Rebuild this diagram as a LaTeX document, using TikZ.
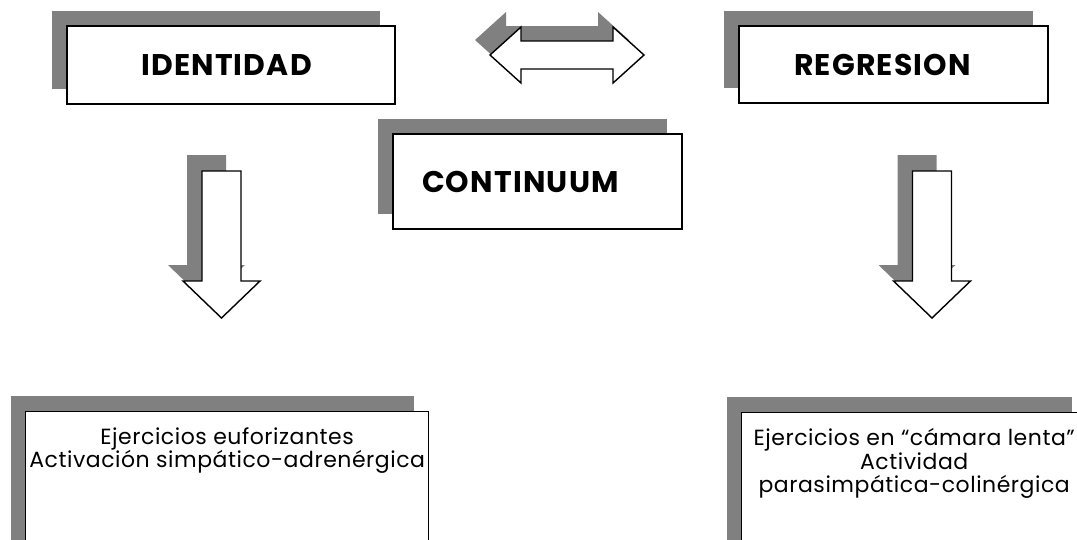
\documentclass[tikz,border=0pt]{standalone}
\usepackage{fontspec}
\setmainfont{Poppins}
\usetikzlibrary{shadows, positioning}

\tikzset{
    twoway/.pic = {\path[pic actions] (-77,0) -- (-46,-28) -- (-46,-14) -- (46,-14)
        -- (46,-28) -- (77,0) -- (46,28) -- (46,14) -- (-46,14) -- (-46,28) -- cycle;},
    downward/.pic = {\path[pic actions] (-19.5,0) -- (19.5,0) -- (19.5,110) -- (38.5,110)
        -- (0,147) -- (-38.5,110) -- (-19.5,110) -- cycle;}
}

\begin{document}
\begin{tikzpicture}[
    x = 0.02cm, y = -0.02cm,
    title/.style = {rectangle, draw=black, line width=0.8pt, fill=white,
                    font=\bfseries\fontsize{17}{20}\selectfont\addfontfeatures{LetterSpace=4},
                    drop shadow={shadow xshift=-0.3cm, shadow yshift=0.31cm, fill=gray, opacity=1}},
    note/.style = {rectangle, draw=black, line width=0.8pt, fill=white, anchor=north west,
                   minimum height=3.6cm,
                   drop shadow={shadow xshift=-0.3cm, shadow yshift=0.31cm, fill=gray, opacity=1}},
    notetext/.style = {align=center, font=\fontsize{12.5}{13.5}\selectfont\addfontfeatures{LetterSpace=2.5}},
    shade/.style = {fill=gray, draw=none},
    hollow/.style = {fill=white, draw=black, line width=0.8pt, line join=miter}
]
\clip (0,0) rectangle (1077,539);

% Titles
\node[title, minimum width=6.56cm, minimum height=1.56cm] (identidad) at (231,65) {\hspace*{-0.18cm}IDENTIDAD};
\node[title, minimum width=6.18cm, minimum height=1.54cm] (regresion) at (893.5,64.5) {\hspace*{-0.44cm}REGRESION};
\node[title, minimum width=5.78cm, minimum height=1.9cm, text width=4.62cm,
      inner xsep=0.58cm, align=left] (continuum) at (537.5,181.5) {\raisebox{-0.17cm}{CONTINUUM}};

% Block arrows
\coordinate (link) at (567,55);
\coordinate (dropL) at (221.5,171);
\coordinate (dropR) at (932,171);

\pic[shade] at ([shift={(-15,-15)}]link) {twoway};
\pic[hollow] at (link) {twoway};
\pic[shade] at ([shift={(-15,-16)}]dropL) {downward};
\pic[hollow] at (dropL) {downward};
\pic[shade] at ([shift={(-15,-16)}]dropR) {downward};
\pic[hollow] at (dropR) {downward};

% Exercises
\node[note, minimum width=8.06cm] (euforia) at (25,411) {};
\node[notetext, below=0.2cm of euforia.north] (euforiatext)
    {Ejercicios euforizantes\\Activación simpático-adrenérgica};

\node[note, minimum width=6.9cm] (lenta) at (741,412) {};
\node[notetext, below=0.2cm of lenta.north] (lentatext)
    {Ejercicios en “cámara lenta”\\Actividad\\parasimpática-colinérgica};

\end{tikzpicture}
\end{document}
